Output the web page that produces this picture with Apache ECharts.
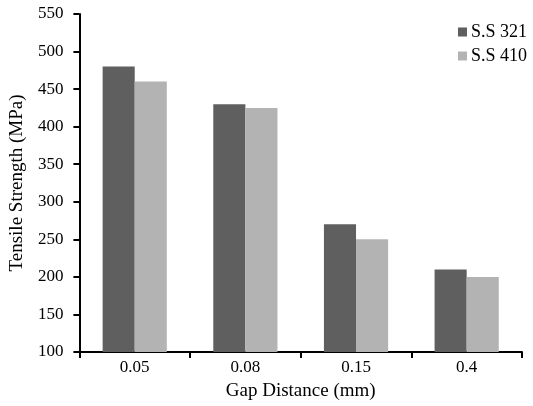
<!DOCTYPE html>
<html><head><meta charset="utf-8">
<script src="https://cdn.jsdelivr.net/npm/echarts@6/dist/echarts.min.js"></script>
<style>html,body{margin:0;padding:0;background:#fff}#c{width:533px;height:406px}</style>
</head><body><div id="c"></div>
<script>
const categories = ['0.05', '0.08', '0.15', '0.4'];
const ss321 = [480, 430, 270, 210];
const ss410 = [460, 425, 250, 200];
const seriesNames = ['S.S 321', 'S.S 410'];
const font = '"Liberation Serif", "Times New Roman", serif';
const chart = echarts.init(document.getElementById('c'));
chart.setOption({
  animation: false,
  textStyle: { fontFamily: font },
  grid: { left: 79, right: 11, top: 14, bottom: 54 },
  legend: {
    left: 458, top: 23, padding: 0, orient: 'vertical', itemWidth: 9, itemHeight: 9, itemGap: 6,
    textStyle: { fontFamily: font, fontSize: 18, color: '#000', padding: [0, 0, 0, -1] }, icon: 'rect',
    data: seriesNames
  },
  xAxis: {
    type: 'category', data: categories,
    name: 'Gap Distance (mm)', nameLocation: 'middle', nameGap: 30,
    nameTextStyle: { fontFamily: font, fontSize: 19, color: '#000' },
    axisLine: { lineStyle: { color: '#000', width: 2 } },
    axisTick: { show: true, length: 6, lineStyle: { color: '#000', width: 2 } },
    axisLabel: { fontFamily: font, fontSize: 17, color: '#000', margin: 7 }
  },
  yAxis: {
    type: 'value', min: 100, max: 550, interval: 50,
    name: 'Tensile Strength (MPa)', nameLocation: 'middle', nameGap: 51, nameRotate: 90,
    nameTextStyle: { fontFamily: font, fontSize: 19, color: '#000' },
    splitLine: { show: false },
    axisLine: { show: true, lineStyle: { color: '#000', width: 2 } },
    axisTick: { show: true, length: 6, lineStyle: { color: '#000', width: 2 } },
    axisLabel: { fontFamily: font, fontSize: 17, color: '#000', margin: 16 }
  },
  series: [
    { name: seriesNames[0], type: 'bar', data: ss321, itemStyle: { color: '#5f5f5f' }, barGap: '0%', barCategoryGap: '42%' },
    { name: seriesNames[1], type: 'bar', data: ss410, itemStyle: { color: '#b3b3b3' }, barGap: '0%', barCategoryGap: '42%' }
  ]
});
</script></body></html>
